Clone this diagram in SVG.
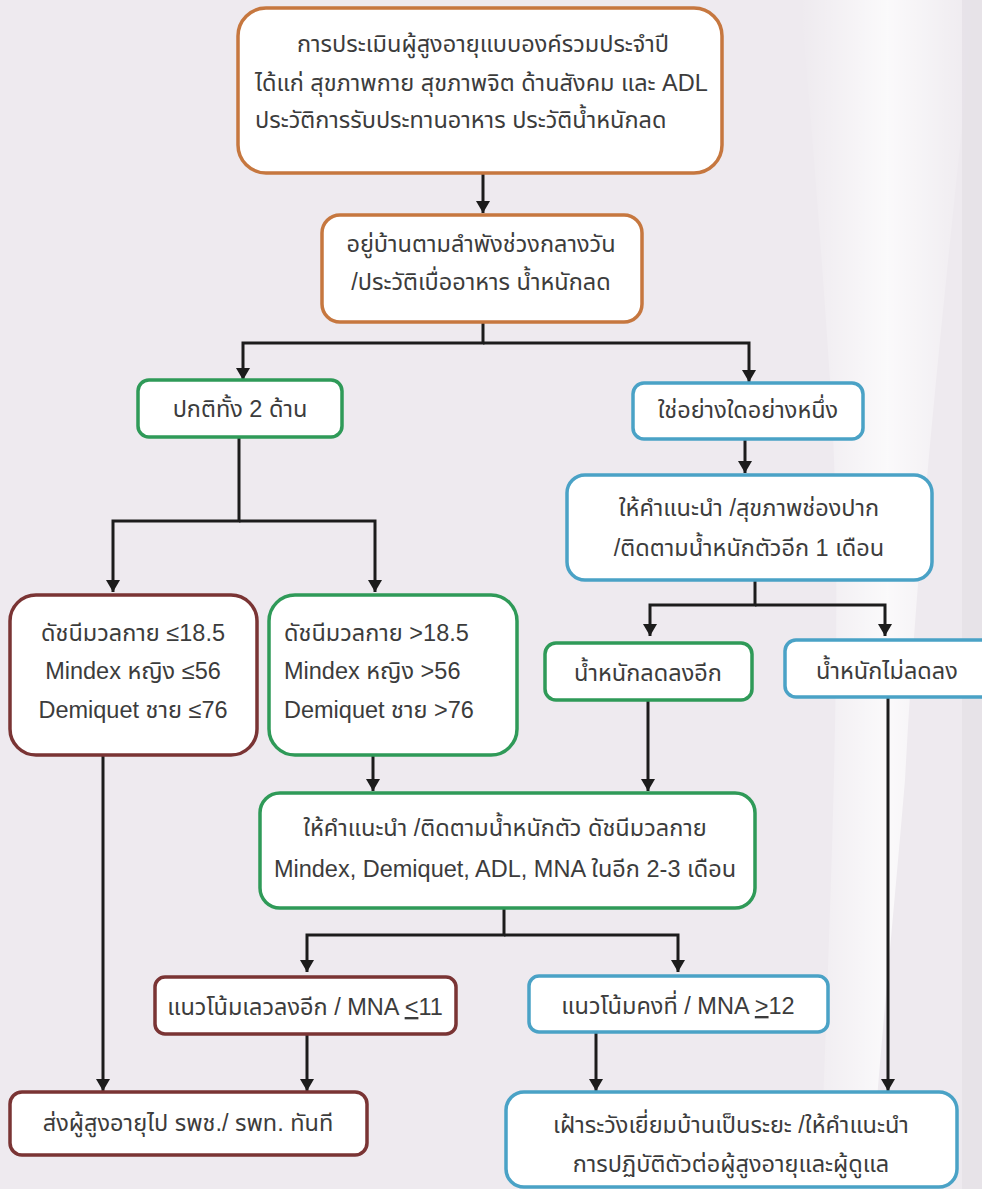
<svg xmlns="http://www.w3.org/2000/svg" width="982" height="1189" viewBox="0 0 982 1189">
  <defs>
    <linearGradient id="sheen" x1="0" y1="0" x2="1" y2="0">
      <stop offset="0" stop-color="#ffffff" stop-opacity="0"/>
      <stop offset="0.5" stop-color="#ffffff" stop-opacity="0.75"/>
      <stop offset="1" stop-color="#ffffff" stop-opacity="0"/>
    </linearGradient>
    <marker id="arrow" markerUnits="userSpaceOnUse" markerWidth="12" markerHeight="14" viewBox="0 0 12 14" refX="12" refY="7" orient="auto">
      <path d="M0,0 L12,7 L0,14 z" fill="#1c1c1c"/>
    </marker>
    <style>
      .box { fill: #ffffff; stroke-width: 3.5; }
      .orange { stroke: #c6773f; }
      .green { stroke: #2f9a58; }
      .maroon { stroke: #7a3434; }
      .blue { stroke: #4aa2c6; }
      .t { font-family: "Liberation Sans", "Noto Sans Thai", "Noto Sans", sans-serif; font-size: 23.5px; fill: #3c3c3c; }
      .c { text-anchor: middle; }
      .wire { fill: none; stroke: #1c1c1c; stroke-width: 3; marker-end: url(#arrow); }
    </style>
  </defs>

  <!-- backdrop -->
  <rect x="0" y="0" width="982" height="1189" fill="#eeeaef"/>
  <path d="M800,0 L975,0 C950,250 920,500 905,780 C895,900 880,1050 870,1189 L820,1189 C830,900 845,600 830,380 C820,230 810,100 800,0 z" fill="url(#sheen)"/>
  <path d="M962,0 L982,0 L982,1189 L962,1189 z" fill="#e4e0e6" opacity="0.7"/>

  <!-- connectors -->
  <g id="connectors">
    <path class="wire" d="M483,173 V213"/>
    <path class="wire" d="M483,322 V343 H243 V380"/>
    <path class="wire" d="M483,343 H749 V382"/>
    <path class="wire" d="M745,439 V473"/>
    <path class="wire" d="M239,437 V521 H113 V592"/>
    <path class="wire" d="M239,521 H375 V592"/>
    <path class="wire" d="M755,580 V605 H650 V636"/>
    <path class="wire" d="M755,605 H885 V636"/>
    <path class="wire" d="M373,755 V791"/>
    <path class="wire" d="M648,700 V791"/>
    <path class="wire" d="M504,908 V935 H307 V972"/>
    <path class="wire" d="M504,935 H678 V972"/>
    <path class="wire" d="M103,755 V1091"/>
    <path class="wire" d="M307,1034 V1091"/>
    <path class="wire" d="M596,1032 V1091"/>
    <path class="wire" d="M888,697 V1091"/>
  </g>

  <!-- nodes -->
  <g id="n-assess">
    <rect class="box orange" x="238" y="8" width="484" height="165" rx="28"/>
    <text class="t c" x="483" y="52">การประเมินผู้สูงอายุแบบองค์รวมประจำปี</text>
    <text class="t" x="255" y="91">ได้แก่ สุขภาพกาย สุขภาพจิต ด้านสังคม และ ADL</text>
    <text class="t" x="255" y="128">ประวัติการรับประทานอาหาร ประวัติน้ำหนักลด</text>
  </g>

  <g id="n-screen">
    <rect class="box orange" x="322" y="215" width="320" height="107" rx="18"/>
    <text class="t c" x="481" y="252">อยู่บ้านตามลำพังช่วงกลางวัน</text>
    <text class="t c" x="481" y="290">/ประวัติเบื่ออาหาร น้ำหนักลด</text>
  </g>

  <g id="n-normal">
    <rect class="box green" x="138" y="380" width="204" height="57" rx="11"/>
    <text class="t c" x="240" y="417">ปกติทั้ง 2 ด้าน</text>
  </g>

  <g id="n-either">
    <rect class="box blue" x="633" y="383" width="230" height="56" rx="11"/>
    <text class="t c" x="748" y="418">ใช่อย่างใดอย่างหนึ่ง</text>
  </g>

  <g id="n-advice1">
    <rect class="box blue" x="567" y="475" width="365" height="105" rx="18"/>
    <text class="t c" x="749" y="516">ให้คำแนะนำ /สุขภาพช่องปาก</text>
    <text class="t c" x="749" y="556">/ติดตามน้ำหนักตัวอีก 1 เดือน</text>
  </g>

  <g id="n-low">
    <rect class="box maroon" x="10" y="595" width="247" height="160" rx="26"/>
    <text class="t c" x="133" y="641">ดัชนีมวลกาย ≤18.5</text>
    <text class="t c" x="133" y="679">Mindex หญิง ≤56</text>
    <text class="t c" x="133" y="718">Demiquet ชาย ≤76</text>
  </g>

  <g id="n-ok">
    <rect class="box green" x="269" y="595" width="248" height="160" rx="26"/>
    <text class="t" x="284" y="641">ดัชนีมวลกาย &gt;18.5</text>
    <text class="t" x="284" y="679">Mindex หญิง &gt;56</text>
    <text class="t" x="284" y="718">Demiquet ชาย &gt;76</text>
  </g>

  <g id="n-dropmore">
    <rect class="box green" x="545" y="643" width="207" height="57" rx="11"/>
    <text class="t c" x="648" y="681">น้ำหนักลดลงอีก</text>
  </g>

  <g id="n-nodrop">
    <rect class="box blue" x="785" y="640" width="210" height="57" rx="11"/>
    <text class="t c" x="887" y="679">น้ำหนักไม่ลดลง</text>
  </g>

  <g id="n-followup">
    <rect class="box green" x="260" y="793" width="495" height="115" rx="20"/>
    <text class="t c" x="505" y="836">ให้คำแนะนำ /ติดตามน้ำหนักตัว ดัชนีมวลกาย</text>
    <text class="t c" x="505" y="877">Mindex, Demiquet, ADL, MNA ในอีก 2-3 เดือน</text>
  </g>

  <g id="n-worse">
    <rect class="box maroon" x="155" y="977" width="301" height="57" rx="10"/>
    <text class="t c" x="305" y="1015">แนวโน้มเลวลงอีก / MNA <tspan text-decoration="underline">&lt;</tspan>11</text>
  </g>

  <g id="n-stable">
    <rect class="box blue" x="529" y="976" width="299" height="56" rx="10"/>
    <text class="t c" x="678" y="1014">แนวโน้มคงที่ / MNA <tspan text-decoration="underline">&gt;</tspan>12</text>
  </g>

  <g id="n-refer">
    <rect class="box maroon" x="10" y="1092" width="357" height="63" rx="12"/>
    <text class="t c" x="188" y="1131">ส่งผู้สูงอายุไป รพช./ รพท. ทันที</text>
  </g>

  <g id="n-monitor">
    <rect class="box blue" x="506" y="1092" width="451" height="95" rx="18"/>
    <text class="t c" x="731" y="1133">เฝ้าระวังเยี่ยมบ้านเป็นระยะ /ให้คำแนะนำ</text>
    <text class="t c" x="731" y="1172">การปฏิบัติตัวต่อผู้สูงอายุและผู้ดูแล</text>
  </g>
</svg>
